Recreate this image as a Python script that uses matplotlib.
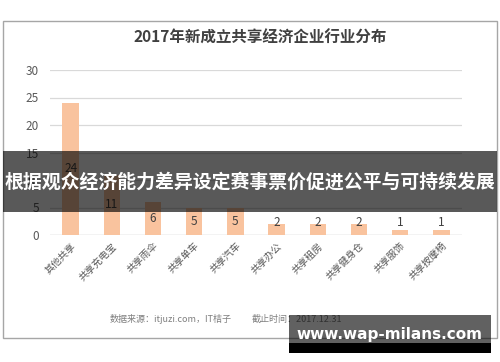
import matplotlib
matplotlib.use("Agg")
import matplotlib.pyplot as plt
from matplotlib.patches import Rectangle

plt.rcParams['font.family'] = ['Noto Sans CJK SC', 'DejaVu Sans']

categories = ["其他共享", "共享充电宝", "共享雨伞", "共享单车", "共享汽车",
              "共享办公", "共享租房", "共享健身仓", "共享服饰", "共享按摩椅"]
values = [24, 11, 6, 5, 5, 2, 2, 2, 1, 1]
yticks = [0, 5, 10, 15, 20, 25, 30]
title = "2017年新成立共享经济企业行业分布"
source = "数据来源：itjuzi.com，IT桔子"
cutoff = "截止时间：2017.12.31"
banner = "根据观众经济能力差异设定赛事票价促进公平与可持续发展"
watermark = "www.wap-milans.com"

W, H = 500, 362
fig = plt.figure(figsize=(5, 3.62), dpi=100)
fig.patch.set_facecolor("white")

def fx(px):
    return px / W

def fy(py):
    return 1 - py / H

# outer frame
fig.add_artist(Rectangle((fx(3), fy(338)), fx(494), (338 - 21) / H, transform=fig.transFigure,
                         fill=False, edgecolor="#A6A6A6", linewidth=1.0, zorder=0))

ax = fig.add_axes([fx(50), fy(235), fx(412), (235 - 70) / H])
ax.set_facecolor("none")
x = list(range(len(categories)))
ax.bar(x, values, width=0.4, color="#F9C39E", zorder=2)
for xi, v in zip(x, values):
    ax.text(xi, max(v / 2, 2.3), str(v), ha="center", va="center",
            fontsize=8.5, color="#404040", zorder=3)

ax.set_ylim(0, 30)
ax.set_xlim(-0.5, len(categories) - 0.5)
ax.set_yticks(yticks)
ax.yaxis.grid(True, color="#D9D9D9", linewidth=0.9)
ax.set_axisbelow(True)
for s in ax.spines.values():
    s.set_visible(False)
ax.tick_params(axis="y", length=0, pad=8, labelsize=8.5, labelcolor="#595959")
ax.tick_params(axis="x", length=0, pad=4)
ax.set_xticks(x)
ax.set_xticklabels(categories, rotation=45, ha="right", rotation_mode="anchor",
                   fontsize=7, color="#595959")
ax.axhline(0, color="#D9D9D9", linewidth=1.0, zorder=1)

fig.text(fx(260), fy(38), title, ha="center", va="center", fontsize=11.2,
         fontweight="bold", color="#404040")
fig.text(fx(110), fy(319), source, ha="left", va="center", fontsize=6.5, color="#7F7F7F")
fig.text(fx(252), fy(319), cutoff, ha="left", va="center", fontsize=6.5, color="#7F7F7F")

# banner overlay
fig.add_artist(Rectangle((fx(3), fy(212)), fx(494), (212 - 151) / H, transform=fig.transFigure,
                         facecolor="black", alpha=0.65, edgecolor="none", zorder=5))
fig.text(0.5, fy(182), banner, ha="center", va="center", fontsize=13.6,
         fontweight="bold", color="white", zorder=6)

# watermark
fig.add_artist(Rectangle((fx(289), fy(343)), fx(202), (343 - 315) / H, transform=fig.transFigure,
                         facecolor="black", alpha=0.62, edgecolor="none", zorder=5))
fig.add_artist(Rectangle((fx(289), fy(353)), fx(202), (353 - 343) / H, transform=fig.transFigure,
                         facecolor="black", edgecolor="none", zorder=5))
fig.text(fx(389), fy(335), watermark, ha="center", va="center", fontsize=11,
         fontweight="bold", color="white", family=["DejaVu Sans"], zorder=6)

fig.savefig("out.png", dpi=100)
